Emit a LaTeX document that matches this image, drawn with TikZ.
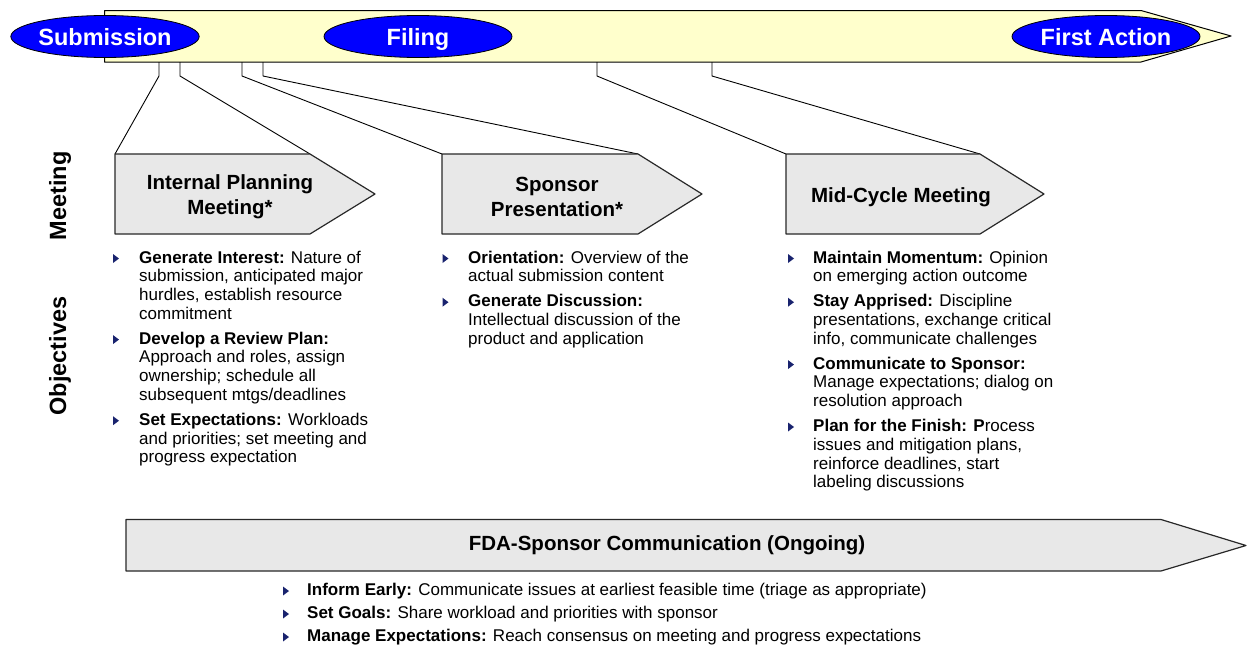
\documentclass[tikz,border=0pt]{standalone}
\usepackage{fontspec}
\setmainfont{Liberation Sans}
\usepackage{xcolor}
\usepackage{tikz}
\usetikzlibrary{shapes.geometric}

\definecolor{baryellow}{RGB}{255,255,204}
\definecolor{mileblue}{RGB}{0,0,255}
\definecolor{stepgray}{RGB}{232,232,232}
\definecolor{edgegray}{RGB}{40,40,40}
\definecolor{bulletnavy}{RGB}{25,35,110}

\tikzset{
  milestone/.style={ellipse, draw=black, line width=0.8pt, fill=mileblue,
    minimum width=188pt, minimum height=42pt, inner sep=0pt, text=white,
    text height=17pt, text depth=0pt, font=\fontsize{23.5}{26}\selectfont\bfseries},
  stepshape/.style={fill=stepgray, draw=edgegray, line width=1.2pt},
  steplabel/.style={align=center, inner sep=0pt, font=\fontsize{20.5}{25}\selectfont\bfseries},
  callout/.style={draw=black, line width=0.9pt},
  objtext/.style={align=left, anchor=north west, inner sep=0pt, font=\fontsize{17}{18.7}\selectfont},
  rowlabel/.style={rotate=90, inner sep=0pt, font=\fontsize{23.5}{26}\selectfont\bfseries},
  tri/.pic={\fill[bulletnavy] (0,-4.5) -- (6,0) -- (0,4.5) -- cycle;}
}

\begin{document}
\begin{tikzpicture}[x=1pt, y=-1pt, line join=round]

  \useasboundingbox (0,0) rectangle (1248,648);

  % Timeline bar
  \filldraw[fill=baryellow, draw=black, line width=1pt] (104.5,10.5) -- (1141,10.5) -- (1231,36) -- (1141,62) -- (104.5,62) -- cycle;

  % Taps on the bar and corners of the meeting arrows
  \coordinate (tapA) at (159,62);
  \coordinate (tapB) at (180,62);
  \coordinate (tapC) at (242,62);
  \coordinate (tapD) at (263,62);
  \coordinate (tapE) at (597,62);
  \coordinate (tapF) at (712,62);
  \coordinate (ipL) at (115,154);
  \coordinate (ipR) at (310,154);
  \coordinate (spL) at (442,154);
  \coordinate (spR) at (638,154);
  \coordinate (mcL) at (786,154);
  \coordinate (mcR) at (980,154);

  % Callout lines
  \draw[callout] (tapA) -- ++(0,14) -- (ipL);
  \draw[callout] (tapB) -- ++(0,14) -- (ipR);
  \draw[callout] (tapC) -- ++(0,14) -- (spL);
  \draw[callout] (tapD) -- ++(0,14) -- (spR);
  \draw[callout] (tapE) -- ++(0,14) -- (mcL);
  \draw[callout] (tapF) -- ++(0,14) -- (mcR);

  % Meeting arrows
  \filldraw[stepshape] (ipL) -- (ipR) -- (375,194) -- (310,234) -- (115,234) -- cycle;
  \filldraw[stepshape] (spL) -- (spR) -- (702,194) -- (638,234) -- (442,234) -- cycle;
  \filldraw[stepshape] (mcL) -- (mcR) -- (1044,194) -- (980,234) -- (786,234) -- cycle;

  % Ongoing communication arrow
  \filldraw[stepshape] (126,519.5) -- (1161,519.5) -- (1246,545.5) -- (1161,571) -- (126,571) -- cycle;

  % Milestones
  \node[milestone] (sub) at (105,36.5) {Submission};
  \node[milestone] (fil) at (418,36.5) {Filing};
  \node[milestone] (fa) at (1106,36.5) {First Action};

  % Arrow labels
  \node[steplabel] (ipm) at (230,197) {Internal Planning\\Meeting*};
  \node[steplabel] (spp) at (557,197) {Sponsor\\Presentation*};
  \node[steplabel] (mcm) at (901,197) {Mid-Cycle Meeting};
  \node[steplabel] (fda) at (667,545.5) {FDA-Sponsor Communication (Ongoing)};

  % Row labels
  \node[rowlabel] (rowmeet) at (60,196) {Meeting};
  \node[rowlabel] (rowobj) at (60,356) {Objectives};

  % Objectives: internal planning meeting
  \node[objtext] (ip1) at (139,249.9) {\strut\textbf{Generate Interest:} Nature of\\submission, anticipated major\\hurdles, establish resource\\commitment};
  \node[objtext] (ip2) at (139,331) {\strut\textbf{Develop a Review Plan:}\\Approach and roles, assign\\ownership; schedule all\\subsequent mtgs/deadlines};
  \node[objtext] (ip3) at (139,412.1) {\strut\textbf{Set Expectations:} Workloads\\and priorities; set meeting and\\progress expectation};

  % Objectives: sponsor presentation
  \node[objtext] (sp1) at (468,249.9) {\strut\textbf{Orientation:} Overview of the\\actual submission content};
  \node[objtext] (sp2) at (468,293.6) {\strut\textbf{Generate Discussion:}\\Intellectual discussion of the\\product and application};

  % Objectives: mid-cycle meeting
  \node[objtext] (mc1) at (813,249.9) {\strut\textbf{Maintain Momentum:} Opinion\\on emerging action outcome};
  \node[objtext] (mc2) at (813,293.6) {\strut\textbf{Stay Apprised:} Discipline\\presentations, exchange critical\\info, communicate challenges};
  \node[objtext] (mc3) at (813,356) {\strut\textbf{Communicate to Sponsor:}\\Manage expectations; dialog on\\resolution approach};
  \node[objtext] (mc4) at (813,418.4) {\strut\textbf{Plan for the Finish: P}rocess\\issues and mitigation plans,\\reinforce deadlines, start\\labeling discussions};

  % Objectives: ongoing communication
  \node[objtext] (fd1) at (307,582.4) {\strut\textbf{Inform Early:} Communicate issues at earliest feasible time (triage as appropriate)};
  \node[objtext] (fd2) at (307,605.4) {\strut\textbf{Set Goals:} Share workload and priorities with sponsor};
  \node[objtext] (fd3) at (307,628.4) {\strut\textbf{Manage Expectations:} Reach consensus on meeting and progress expectations};

  % Bullets
  \pic at ([xshift=-26pt,yshift=-8.6pt]ip1.north west) {tri};
  \pic at ([xshift=-26pt,yshift=-8.6pt]ip2.north west) {tri};
  \pic at ([xshift=-26pt,yshift=-8.6pt]ip3.north west) {tri};
  \pic at ([xshift=-25.5pt,yshift=-8.6pt]sp1.north west) {tri};
  \pic at ([xshift=-25.5pt,yshift=-8.6pt]sp2.north west) {tri};
  \pic at ([xshift=-25pt,yshift=-8.6pt]mc1.north west) {tri};
  \pic at ([xshift=-25pt,yshift=-8.6pt]mc2.north west) {tri};
  \pic at ([xshift=-25pt,yshift=-8.6pt]mc3.north west) {tri};
  \pic at ([xshift=-25pt,yshift=-8.6pt]mc4.north west) {tri};
  \pic at ([xshift=-24pt,yshift=-8.6pt]fd1.north west) {tri};
  \pic at ([xshift=-24pt,yshift=-8.6pt]fd2.north west) {tri};
  \pic at ([xshift=-24pt,yshift=-8.6pt]fd3.north west) {tri};

\end{tikzpicture}
\end{document}
